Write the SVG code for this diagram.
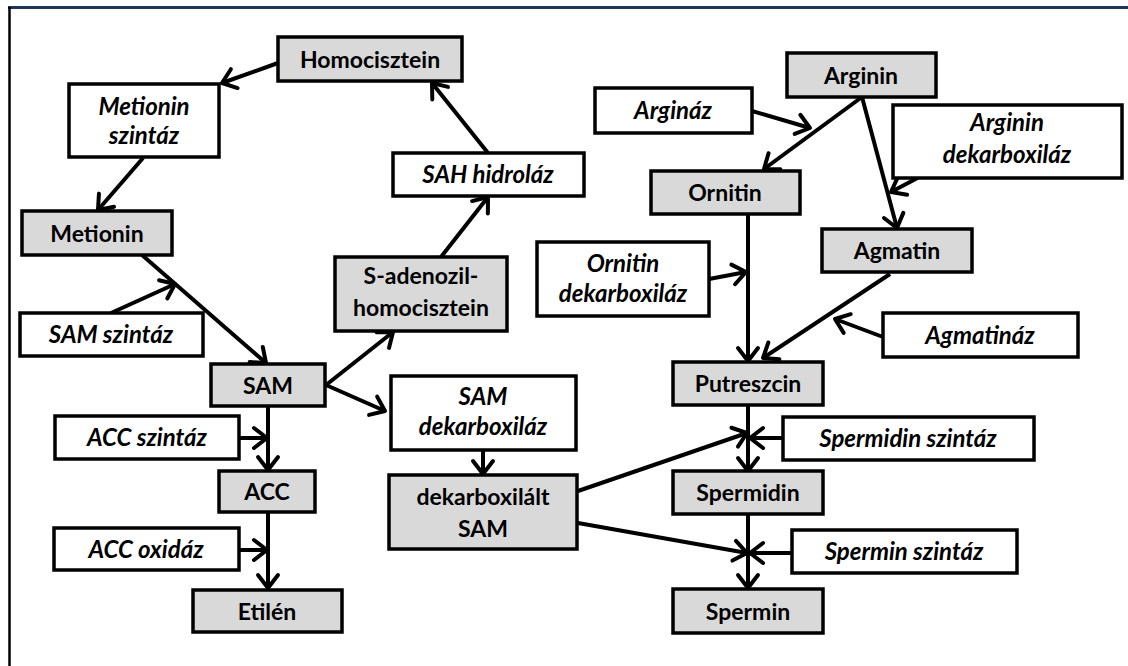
<svg xmlns="http://www.w3.org/2000/svg" width="1128" height="666" viewBox="0 0 1128 666">
  <style>
    .sub rect { fill: #d9d9d9; stroke: #000; stroke-width: 3.5; }
    .enz rect { fill: #fff; stroke: #000; stroke-width: 3.5; }
    text { font-family: Lato, "Open Sans", "Liberation Sans", sans-serif; font-size: 23px; fill: #000; text-anchor: middle; }
    .sub text { font-weight: bold; }
    .enz text { font-weight: bold; font-style: italic; font-size: 24px; }
    .conn line { stroke: #000; stroke-width: 4; marker-end: url(#arr); }
  </style>
  <defs>
    <marker id="arr" markerUnits="userSpaceOnUse" markerWidth="22" markerHeight="24" refX="16" refY="11" orient="auto" overflow="visible">
      <path d="M3,1 L16,11 L3,21" fill="none" stroke="#000" stroke-width="4" stroke-linecap="round" stroke-linejoin="round"/>
    </marker>
  </defs>
  <rect x="0" y="0" width="1128" height="666" fill="#fff"/>
  <!-- frame -->
  <line x1="8" y1="7.5" x2="1128" y2="7.5" stroke="#1f3458" stroke-width="3"/>
  <line x1="9.5" y1="7" x2="9.5" y2="666" stroke="#000" stroke-width="2.5"/>

  <g class="conn" id="connectors">
    <line x1="278" y1="63" x2="222" y2="83"/>
    <line x1="143" y1="158" x2="98" y2="210"/>
    <line x1="142" y1="255" x2="266" y2="363"/>
    <line x1="111" y1="313" x2="175" y2="284"/>
    <line x1="326" y1="385" x2="393" y2="332"/>
    <line x1="326" y1="385" x2="385" y2="411"/>
    <line x1="441" y1="257" x2="488" y2="197"/>
    <line x1="488" y1="153" x2="432" y2="83"/>
    <line x1="268" y1="407" x2="268" y2="470"/>
    <line x1="239" y1="438" x2="267" y2="438"/>
    <line x1="268" y1="512" x2="268" y2="588"/>
    <line x1="239" y1="550" x2="267" y2="550"/>
    <line x1="483" y1="450" x2="483" y2="474"/>
    <line x1="578" y1="491" x2="747" y2="433"/>
    <line x1="578" y1="523" x2="747" y2="553"/>
    <line x1="748" y1="405" x2="748" y2="471"/>
    <line x1="783" y1="438" x2="750" y2="438"/>
    <line x1="748" y1="514" x2="748" y2="588"/>
    <line x1="792" y1="553" x2="750" y2="553"/>
    <line x1="862" y1="97" x2="764" y2="169"/>
    <line x1="862" y1="97" x2="897" y2="228"/>
    <line x1="925" y1="174" x2="891" y2="192"/>
    <line x1="752" y1="111" x2="810" y2="128"/>
    <line x1="748" y1="214" x2="748" y2="361"/>
    <line x1="709" y1="279" x2="746" y2="272"/>
    <line x1="890" y1="274" x2="763" y2="358"/>
    <line x1="883" y1="337" x2="835" y2="319"/>
  </g>

  <g class="sub" id="homocisztein"><rect x="278" y="37" width="184" height="44"/><text x="370" y="67.5">Homocisztein</text></g>
  <g class="enz" id="metionin-szintaz"><rect x="69" y="84" width="150" height="73"/><text x="144" y="115">Metionin</text><text x="144" y="144">szintáz</text></g>
  <g class="sub" id="metionin"><rect x="22" y="211" width="150" height="44"/><text x="97" y="241.5">Metionin</text></g>
  <g class="enz" id="sam-szintaz"><rect x="20" y="313" width="183" height="43"/><text x="111" y="343">SAM szintáz</text></g>
  <g class="sub" id="sam"><rect x="211" y="364" width="114" height="42"/><text x="268" y="393.5">SAM</text></g>
  <g class="enz" id="acc-szintaz"><rect x="55" y="416" width="184" height="43"/><text x="147" y="446">ACC szintáz</text></g>
  <g class="sub" id="acc"><rect x="219" y="471" width="96" height="41"/><text x="267" y="500">ACC</text></g>
  <g class="enz" id="acc-oxidaz"><rect x="54" y="528" width="185" height="42"/><text x="146" y="557.5">ACC oxidáz</text></g>
  <g class="sub" id="etilen"><rect x="193" y="590" width="149" height="42"/><text x="267" y="619.5">Etilén</text></g>
  <g class="sub" id="s-adenozil-homocisztein"><rect x="335" y="257" width="172" height="74"/><text x="421" y="284">S-adenozil-</text><text x="421" y="316">homocisztein</text></g>
  <g class="enz" id="sah-hidrolaz"><rect x="393" y="153" width="191" height="43"/><text x="488" y="183">SAH hidroláz</text></g>
  <g class="enz" id="sam-dekarboxilaz"><rect x="391" y="376" width="185" height="74"/><text x="483" y="405">SAM</text><text x="483" y="435">dekarboxiláz</text></g>
  <g class="sub" id="dekarboxilalt-sam"><rect x="389" y="475" width="188" height="74"/><text x="483" y="505">dekarboxilált</text><text x="483" y="537">SAM</text></g>
  <g class="sub" id="arginin"><rect x="787" y="53" width="149" height="44"/><text x="861" y="83.5">Arginin</text></g>
  <g class="enz" id="arginaz"><rect x="595" y="88" width="157" height="45"/><text x="673" y="119">Argináz</text></g>
  <g class="enz" id="arginin-dekarboxilaz"><rect x="893" y="105" width="229" height="73"/><text x="1007" y="131">Arginin</text><text x="1007" y="163">dekarboxiláz</text></g>
  <g class="sub" id="ornitin"><rect x="651" y="171" width="149" height="43"/><text x="725" y="201">Ornitin</text></g>
  <g class="sub" id="agmatin"><rect x="822" y="229" width="150" height="43"/><text x="897" y="259">Agmatin</text></g>
  <g class="enz" id="ornitin-dekarboxilaz"><rect x="537" y="242" width="172" height="74"/><text x="623" y="272">Ornitin</text><text x="623" y="302">dekarboxiláz</text></g>
  <g class="enz" id="agmatinaz"><rect x="883" y="313" width="195" height="44"/><text x="980" y="343.5">Agmatináz</text></g>
  <g class="sub" id="putreszcin"><rect x="673" y="362" width="150" height="43"/><text x="748" y="392">Putreszcin</text></g>
  <g class="enz" id="spermidin-szintaz"><rect x="783" y="417" width="251" height="43"/><text x="908" y="447">Spermidin szintáz</text></g>
  <g class="sub" id="spermidin"><rect x="673" y="471" width="150" height="43"/><text x="748" y="501">Spermidin</text></g>
  <g class="enz" id="spermin-szintaz"><rect x="792" y="530" width="225" height="43"/><text x="904" y="560">Spermin szintáz</text></g>
  <g class="sub" id="spermin"><rect x="673" y="589" width="150" height="44"/><text x="748" y="619.5">Spermin</text></g>
</svg>
